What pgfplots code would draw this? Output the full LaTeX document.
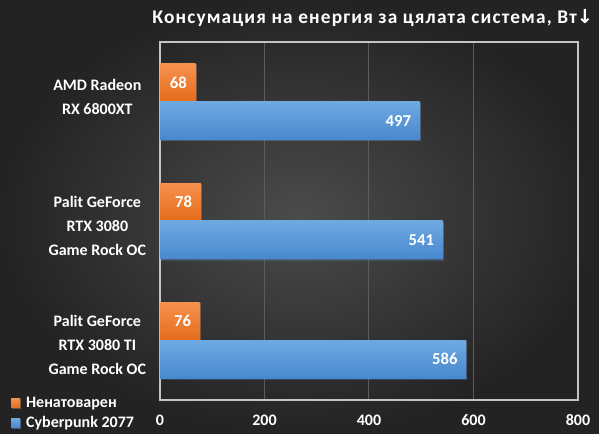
\documentclass[border=0pt]{standalone}
\usepackage{fontspec}
\setmainfont{Carlito}
\newfontfamily\dejavu{DejaVu Sans}
\usepackage{pgfplots}
\pgfplotsset{compat=1.18}
\usetikzlibrary{shadows}
\definecolor{bgin}{HTML}{4B4B4B}
\definecolor{bgout}{HTML}{232323}
\definecolor{otop}{HTML}{F6914F}
\definecolor{obot}{HTML}{E56C1B}
\definecolor{btop}{HTML}{6EA9E1}
\definecolor{bbot}{HTML}{4888CF}
\definecolor{gridc}{HTML}{5C5C5C}
\definecolor{boxc}{HTML}{C4C4C4}
\pgfplotsset{
  obar/.style={draw=none, top color=otop, bottom color=obot, bar shift=0.159,
    drop shadow={opacity=0.3, shadow xshift=0.8pt, shadow yshift=-0.8pt}},
  bbar/.style={draw=none, top color=btop, bottom color=bbot, bar shift=-0.159,
    drop shadow={opacity=0.3, shadow xshift=0.8pt, shadow yshift=-0.8pt}},
}
\begin{document}
\begin{tikzpicture}
\useasboundingbox (0,0) rectangle (449.25pt,325.5pt);
\shade[inner color=bgin, outer color=bgout] (0,0) rectangle (449.25pt,325.5pt);
\node[text=white, font=\bfseries\fontsize{14.5}{16}\selectfont, inner sep=0pt] at (279.5pt,312pt)
  {\addfontfeature{LetterSpace=6}Консумация на енергия за цялата система, Вт{\dejavu\bfseries↓}};
\begin{axis}[
  at={(120pt,25.5pt)}, anchor=south west,
  scale only axis, width=313.5pt, height=268.5pt,
  xbar, bar width=0.318,
  xmin=0, xmax=800, ymin=-0.5, ymax=2.5,
  xtick={0,200,400,600,800},
  ytick={0,1,2},
  yticklabels={{Palit GeForce\\RTX 3080 TI\\Game Rock OC},{Palit GeForce\\RTX 3080\\Game Rock OC},{AMD Radeon\\RX 6800XT}},
  yticklabel style={align=center, anchor=center, xshift=-47pt, yshift={ifthenelse(\ticknum==2,3.8,-3.6)},
    font=\bfseries\fontsize{12}{18}\selectfont, text=white},
  xticklabel style={font=\bfseries\fontsize{12}{14}\selectfont, text=white, yshift=-7.5pt},
  /pgf/number format/assume math mode=true,
  major tick length=0pt,
  xmajorgrids, grid style={color=gridc, line width=0.75pt},
  axis line style={draw=boxc, line width=0.9pt},
  nodes near coords,
  every node near coord/.append style={anchor=east, xshift=-3pt, text=white, font=\bfseries\fontsize{12.5}{14}\selectfont},
  legend style={at={(-0.357,0.017)}, anchor=north west, draw=none, fill=none, text=white,
    font=\bfseries\fontsize{12}{14}\selectfont, row sep=1.5pt, inner sep=0pt,
    nodes={inner xsep=4.5pt}},
  legend cell align=left,
  legend image code/.code={\path[#1, draw=none, drop shadow={opacity=0}] (0pt,-3.4pt) rectangle (6.8pt,3.4pt);},
]
\addplot[obar] coordinates {(68,2)};
\addplot[bbar] coordinates {(497,2)};
\addplot[obar, forget plot] coordinates {(78,1)};
\addplot[obar, forget plot] coordinates {(76,0)};
\addplot[bbar, forget plot] coordinates {(541,1)};
\addplot[bbar, forget plot] coordinates {(586,0)};
\legend{Ненатоварен, Cyberpunk 2077}
\end{axis}
\end{tikzpicture}
\end{document}
